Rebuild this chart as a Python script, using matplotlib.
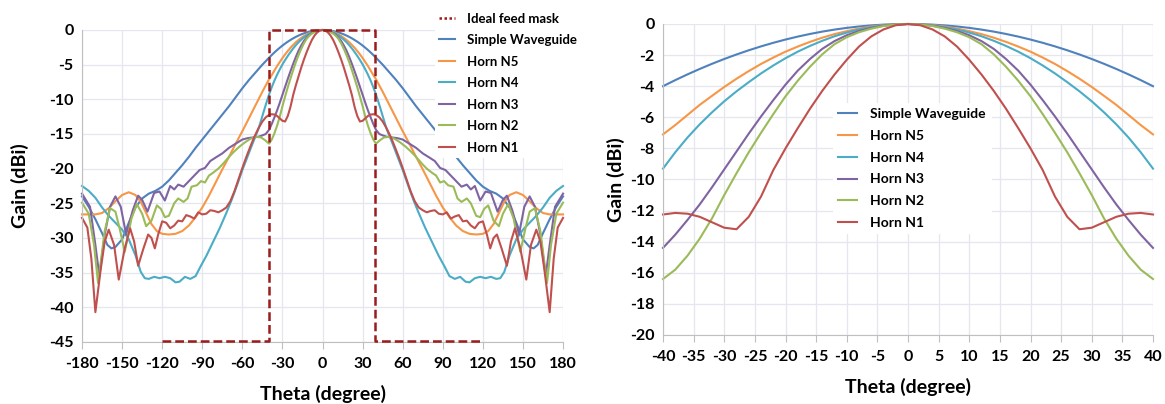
import numpy as np
import matplotlib.pyplot as plt
from matplotlib.lines import Line2D

plt.rcParams['font.family'] = ['Lato', 'DejaVu Sans']
plt.rcParams['font.weight'] = 'bold'
plt.rcParams['axes.unicode_minus'] = False

# half-pattern data (theta >= 0), the patterns are symmetric
near_theta = [0, 2, 4, 6, 8, 10, 12, 14, 16, 18, 20, 22, 24, 26, 28, 30, 32, 34, 36, 38, 40]
sw_near = [0, -0.01, -0.04, -0.09, -0.16, -0.25, -0.36, -0.49, -0.64, -0.81, -1.0, -1.21, -1.44, -1.69, -1.96,
           -2.25, -2.56, -2.89, -3.24, -3.61, -4.0]
n5_near = [0, -0.02, -0.07, -0.16, -0.29, -0.46, -0.65, -0.88, -1.15, -1.45, -1.78, -2.16, -2.57, -3.03, -3.52,
           -4.05, -4.62, -5.2, -5.85, -6.5, -7.1]
n4_near = [0, -0.02, -0.09, -0.2, -0.35, -0.55, -0.79, -1.08, -1.41, -1.78, -2.2, -2.67, -3.18, -3.74, -4.33,
           -4.97, -5.68, -6.45, -7.3, -8.25, -9.3]
n3_near = [0, -0.03, -0.11, -0.25, -0.45, -0.72, -1.1, -1.6, -2.25, -3.0, -3.9, -4.9, -5.95, -7.05, -8.2,
           -9.35, -10.5, -11.6, -12.6, -13.55, -14.4]
n2_near = [0, -0.03, -0.13, -0.3, -0.53, -0.85, -1.3, -1.95, -2.75, -3.65, -4.65, -5.8, -7.0, -8.25, -9.6,
           -11.0, -12.5, -13.8, -14.9, -15.8, -16.4]
n1_near = [0, -0.08, -0.35, -0.8, -1.45, -2.3, -3.25, -4.3, -5.45, -6.7, -8.0, -9.4, -11.1, -12.4, -13.2,
           -13.1, -12.75, -12.4, -12.2, -12.15, -12.25]

sw_far_theta = [42.5, 45, 50, 55, 60, 65, 70, 75, 80, 85, 90, 95, 100, 105, 110, 115, 120, 125, 130, 135,
                140, 145, 150, 155, 158, 161, 165, 170, 175, 180]
sw_far_gain = [-4.5, -5.0, -6.1, -7.2, -8.4, -9.7, -11.0, -12.2, -13.4, -14.6, -15.8, -17.0, -18.3, -19.5, -20.6,
               -21.7, -22.6, -23.2, -23.6, -24.3, -25.6, -27.8, -30.2, -31.3, -31.5, -31.0, -29.3, -27.3, -25.5, -24.0]

n5_far_theta = [42.5, 45, 50, 55, 60, 65, 70, 75, 80, 85, 90, 95, 100, 105, 110, 115, 120, 124, 128, 132,
                136, 140, 145, 150, 155, 160, 165, 170, 180]
n5_far_gain = [-8.0, -8.9, -10.8, -12.7, -14.6, -16.4, -18.3, -20.1, -22.0, -23.9, -25.6, -27.0, -28.2, -29.0,
               -29.4, -29.5, -29.4, -29.0, -28.0, -26.4, -24.8, -23.8, -23.4, -23.8, -24.7, -25.7, -26.4, -26.6, -26.6]

n4_far_theta = [42.5, 45, 48, 52, 56, 60, 64, 68, 72, 77, 82, 87, 91, 95, 99, 103, 107, 110, 114, 118, 122,
                126, 130, 133, 136, 140, 145, 150, 155, 160, 165, 170, 175, 180]
n4_far_gain = [-10.8, -12.4, -14.3, -16.2, -18.2, -20.2, -22.4, -24.5, -26.4, -28.6, -30.6, -32.6, -34.0, -35.5,
               -35.9, -35.6, -36.3, -36.4, -35.8, -35.6, -35.8, -35.6, -35.9, -35.8, -34.9, -32.5, -30.2, -28.8,
               -27.8, -26.8, -25.6, -24.2, -23.2, -22.5]

n3_far_theta = [42.5, 45, 48, 52, 56, 60, 65, 70, 75, 80, 84, 88, 92, 96, 100, 104, 108, 111, 114, 118, 122,
                126, 131, 135, 138, 142, 147, 151, 155, 159, 163, 167, 170, 174, 180]
n3_far_gain = [-15.0, -15.2, -15.4, -15.5, -15.6, -15.8, -16.4, -17.0, -17.8, -18.4, -18.9, -19.9, -20.2, -21.0,
               -21.8, -22.6, -22.3, -23.0, -22.5, -24.6, -23.3, -23.5, -26.2, -24.5, -23.9, -26.0, -29.5, -25.5,
               -24.0, -25.5, -29.5, -35.5, -31.0, -25.5, -23.6]

n2_far_theta = [43, 46, 50, 54, 58, 62, 66, 70, 74, 78, 82, 85, 88, 91, 94, 98, 101, 104, 108, 111, 115, 118,
                121, 124, 128, 132, 135, 139, 143, 148, 152, 155, 159, 163, 168, 171, 175, 180]
n2_far_gain = [-15.9, -15.5, -15.4, -15.7, -16.2, -16.8, -17.5, -18.3, -19.2, -20.0, -20.6, -21.0, -22.0, -21.8,
               -22.4, -22.6, -24.3, -24.8, -24.3, -25.0, -26.8, -27.0, -25.8, -25.3, -27.5, -28.3, -26.5, -25.1,
               -27.2, -32.0, -28.5, -26.2, -25.7, -29.0, -36.5, -31.0, -26.5, -24.9]

n1_far_theta = [42.5, 45, 48, 51, 54, 57, 60, 63, 66, 69, 72, 75, 78, 81, 84, 87, 90, 93, 96, 99, 102, 105, 108,
                111, 114, 117, 120, 123, 125.5, 128, 130.5, 134, 138, 141, 144, 148, 152.5, 156, 160, 163, 166,
                170, 173, 176, 180]
n1_far_gain = [-12.6, -13.2, -14.2, -15.4, -16.8, -18.3, -19.9, -21.6, -23.3, -24.7, -25.6, -26.0, -26.3, -26.1,
               -26.0, -26.5, -26.6, -26.3, -27.2, -26.9, -26.7, -27.6, -27.5, -28.2, -28.6, -27.8, -27.6, -29.5,
               -31.5, -30.0, -29.5, -31.5, -34.0, -30.5, -28.6, -31.5, -36.0, -31.0, -28.8, -30.5, -34.5, -40.7,
               -33.0, -28.5, -27.1]

mask_theta = [-120, -40, -40, 39, 39, 120]
mask_gain = [-44.8, -44.8, 0, 0, -44.8, -44.8]

names = ['Simple Waveguide', 'Horn N5', 'Horn N4', 'Horn N3', 'Horn N2', 'Horn N1']
colors = ['#4F81BD', '#F79646', '#4BACC6', '#8064A2', '#9BBB59', '#C0504D']
near_list = [sw_near, n5_near, n4_near, n3_near, n2_near, n1_near]
far_list = [(sw_far_theta, sw_far_gain), (n5_far_theta, n5_far_gain), (n4_far_theta, n4_far_gain),
            (n3_far_theta, n3_far_gain), (n2_far_theta, n2_far_gain), (n1_far_theta, n1_far_gain)]


def full_pattern(near, far_t, far_g):
    t = np.array(near_theta + far_t, dtype=float)
    g = np.array(near + far_g, dtype=float)
    return np.concatenate([-t[::-1], t[1:]]), np.concatenate([g[::-1], g[1:]])


grid_c = '#e4e7ef'
spine_c = '#bfbfbf'

fig = plt.figure(figsize=(11.65, 4.04), dpi=100)
ax1 = fig.add_axes([0.0704, 0.1535, 0.4129, 0.7723])
ax2 = fig.add_axes([0.5691, 0.1708, 0.4206, 0.7698])

lines = []
for name, c, near, (ft, fg) in zip(names, colors, near_list, far_list):
    th, g = full_pattern(near, ft, fg)
    ln, = ax1.plot(th, g, color=c, lw=1.5, clip_on=False, label=name)
    lines.append(ln)
    sel = np.abs(th) <= 40
    ax2.plot(th[sel], g[sel], color=c, lw=1.5, clip_on=False, label=name)

ax1.plot(mask_theta, mask_gain, color='#9B1C1C', lw=1.8, ls=(0, (3.5, 1.6)), zorder=5, clip_on=False)

for ax in (ax1, ax2):
    ax.grid(True, color=grid_c, lw=0.9)
    ax.set_axisbelow(True)
    for s in ('top', 'right'):
        ax.spines[s].set_visible(False)
    ax.spines['left'].set_color(spine_c)
    ax.spines['bottom'].set_color(spine_c)
    ax.tick_params(axis='x', direction='out', length=5, color=spine_c, labelsize=11.5, pad=6)
    ax.tick_params(axis='y', length=0, labelsize=11.5, pad=6)
    ax.set_ylabel('Gain (dBi)', fontsize=14, fontweight='bold')
    ax.set_xlabel('Theta (degree)', fontsize=14, fontweight='bold', labelpad=10)

ax1.yaxis.set_label_coords(-0.11, 0.5)

ax1.set_xlim(-180, 180)
ax1.set_ylim(-45, 0)
ax1.set_xticks(np.arange(-180, 181, 30))
ax1.set_yticks(np.arange(-45, 1, 5))

ax2.set_xlim(-40, 40)
ax2.set_ylim(-20, 0)
ax2.set_xticks(np.arange(-40, 41, 5))
ax2.set_yticks(np.arange(-20, 1, 2))

mask_handle = Line2D([], [], color='#9B1C1C', lw=1.8, ls=(0, (1, 1)))
leg1 = fig.legend([mask_handle] + lines, ['Ideal feed mask'] + names, loc='upper left',
                  bbox_to_anchor=(0.368, 0.995), frameon=True, fontsize=9.5, handlelength=1.2,
                  handletextpad=0.9, labelspacing=0.72, borderpad=0.3)
leg1.get_frame().set_facecolor('white')
leg1.get_frame().set_edgecolor('none')
leg1.get_frame().set_alpha(1)
leg1.set_zorder(10)

leg2 = fig.legend(lines, names, loc='upper left', bbox_to_anchor=(0.709, 0.763), frameon=True,
                  fontsize=10, handlelength=1.3, handletextpad=1.0, labelspacing=0.7, borderpad=0.4)
leg2.get_frame().set_facecolor('white')
leg2.get_frame().set_edgecolor('none')
leg2.get_frame().set_alpha(1)
leg2.set_zorder(10)

fig.savefig('out.png', dpi=100)
